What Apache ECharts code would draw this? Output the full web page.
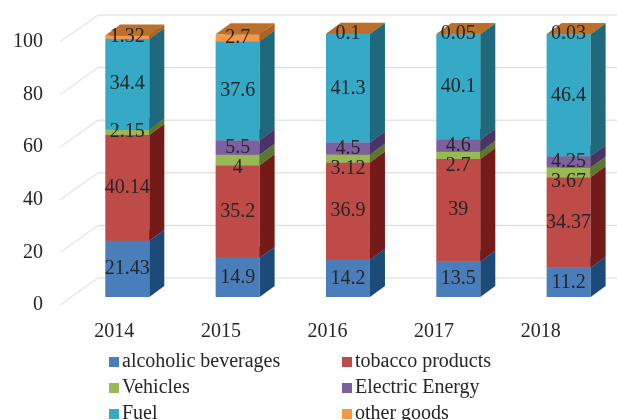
<!DOCTYPE html>
<html>
<head>
<meta charset="utf-8">
<script src="https://cdn.jsdelivr.net/npm/echarts@6/dist/echarts.min.js"></script>
<style>
html, body { margin: 0; padding: 0; background: #fff; }
#chart { width: 617px; height: 420px; }
</style>
</head>
<body>
<div id="chart"></div>
<script>
var years = ['2014', '2015', '2016', '2017', '2018'];
var yTicks = [0, 20, 40, 60, 80, 100];

var alcoholicBeverages = [21.43, 14.9, 14.2, 13.5, 11.2];
var tobaccoProducts = [40.14, 35.2, 36.9, 39, 34.37];
var vehicles = [2.15, 4, 3.12, 2.7, 3.67];
var electricEnergy = [null, 5.5, 4.5, 4.6, 4.25];
var fuel = [34.4, 37.6, 41.3, 40.1, 46.4];
var otherGoods = [1.32, 2.7, 0.1, 0.05, 0.03];

var seriesNames = ['alcoholic beverages', 'tobacco products', 'Vehicles', 'Electric Energy', 'Fuel', 'other goods'];
var seriesValues = [alcoholicBeverages, tobaccoProducts, vehicles, electricEnergy, fuel, otherGoods];

var frontColors = ['#4A7EBB', '#BE4B48', '#98B954', '#7D60A0', '#35A9C6', '#F79646'];
var sideColors = ['#1D4B79', '#741A19', '#5D7730', '#4A3467', '#1E6A7C', '#B0611F'];
var topColors = ['#3867A0', '#A43B38', '#7F9E42', '#664E87', '#2B8DA6', '#BC6F2B'];

// fake 3d: offsets in px
var WALL_X = 38, WALL_Y = 27;   // label plane -> back wall
var SIDE_X = 15, SIDE_Y = 11;   // bar depth
var BAR_W = 44, BAR_LIFT = 8;
var SPREAD = 1.035, SHIFT = 9;  // perspective of bar centres vs. category labels
var FONT = '"Liberation Serif", "Times New Roman", serif';
var MIN_GAP = 20;

// stacked bases
var bases = [];
var run = years.map(function () { return 0; });
seriesValues.forEach(function (vals, s) {
    bases[s] = run.slice();
    vals.forEach(function (v, i) { run[i] += (v == null ? 0 : v); });
});

function midY(api, s, i) {
    var v = seriesValues[s][i];
    return api.coord([i, bases[s][i] + v / 2])[1] - BAR_LIFT;
}

function makeBarRender(s) {
    return function (params, api) {
        var i = api.value(0), base = api.value(1), val = seriesValues[s][i];
        if (val == null) return;
        var pB = api.coord([i, base]);
        var pT = api.coord([i, base + val]);
        var cx = pB[0] * SPREAD + SHIFT;
        var x0 = cx - BAR_W / 2, x1 = cx + BAR_W / 2;
        var yb = pB[1] - BAR_LIFT, yt = pT[1] - BAR_LIFT;

        // keep label clear of the one above it
        var ly = midY(api, s, i);
        for (var n = s + 1; n < seriesValues.length; n++) {
            if (seriesValues[n][i] != null) {
                var ny = midY(api, n, i);
                if (ly - ny < MIN_GAP) ly = ny + MIN_GAP;
                break;
            }
        }

        return {
            type: 'group',
            children: [
                { type: 'rect', shape: { x: x0, y: yt, width: BAR_W, height: yb - yt }, style: { fill: frontColors[s] } },
                { type: 'polygon', shape: { points: [[x1, yb], [x1 + SIDE_X, yb - SIDE_Y], [x1 + SIDE_X, yt - SIDE_Y], [x1, yt]] }, style: { fill: sideColors[s] } },
                { type: 'polygon', shape: { points: [[x0, yt], [x1, yt], [x1 + SIDE_X, yt - SIDE_Y], [x0 + SIDE_X, yt - SIDE_Y]] }, style: { fill: topColors[s] } },
                { type: 'text', z2: 100, style: { text: String(val), x: cx, y: ly, align: 'center', verticalAlign: 'middle', font: '20px ' + FONT, fill: '#262626' } }
            ]
        };
    };
}

var series = [{
    type: 'custom',
    name: 'wall',
    silent: true,
    data: yTicks.map(function (v) { return [0, v]; }),
    renderItem: function (params, api) {
        var y = api.coord([0, api.value(1)])[1];
        var x0 = params.coordSys.x - 1;
        return {
            type: 'polyline',
            shape: { points: [[x0, y], [x0 + WALL_X, y - WALL_Y], [api.getWidth(), y - WALL_Y]] },
            style: { stroke: '#D9D9D9', lineWidth: 1, fill: null }
        };
    }
}];

seriesNames.forEach(function (name, s) {
    series.push({
        type: 'custom',
        name: name,
        itemStyle: { color: frontColors[s] },
        data: years.map(function (y, i) { return [i, bases[s][i], seriesValues[s][i]]; }),
        renderItem: makeBarRender(s)
    });
});

var chart = echarts.init(document.getElementById('chart'));
chart.setOption({
    animation: false,
    grid: { left: 61, right: 23, top: 42, bottom: 115 },
    xAxis: {
        type: 'category',
        data: years,
        axisLine: { show: false },
        axisTick: { show: false },
        axisLabel: { fontSize: 20, fontFamily: FONT, color: '#262626', margin: 17 }
    },
    yAxis: {
        type: 'value',
        min: 0, max: 100, interval: 20,
        axisLine: { show: false },
        axisTick: { show: false },
        splitLine: { show: false },
        axisLabel: { fontSize: 20, fontFamily: FONT, color: '#262626', margin: 18 }
    },
    legend: {
        data: seriesNames,
        left: 109, top: 352, width: 470, padding: 0,
        icon: 'rect', itemWidth: 10, itemHeight: 10, itemGap: 6,
        textStyle: { fontSize: 20, fontFamily: FONT, color: '#262626', width: 214, lineHeight: 16, padding: [0, 0, 0, -2] }
    },
    series: series
});
</script>
</body>
</html>
